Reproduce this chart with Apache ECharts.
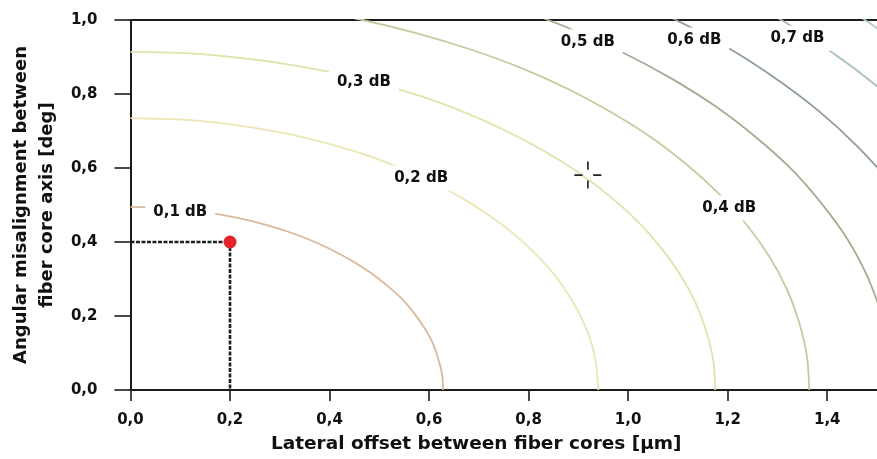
<!DOCTYPE html>
<html>
<head>
<meta charset="utf-8">
<script src="https://cdn.jsdelivr.net/npm/echarts@6/dist/echarts.min.js"></script>
<style>html,body{margin:0;padding:0;background:#fff}#c{width:877px;height:459px}</style>
</head>
<body>
<div id="c"></div>
<script>
// ---- data ----
const xTicks = [0, 0.2, 0.4, 0.6, 0.8, 1.0, 1.2, 1.4];
const yTicks = [0, 0.2, 0.4, 0.6, 0.8, 1.0];

const loss01 = [[0,0.495],[0.055,0.493],[0.109,0.487],[0.163,0.478],[0.215,0.465],[0.265,0.449],[0.314,0.429],[0.360,0.406],[0.404,0.379],[0.444,0.350],[0.481,0.318],[0.514,0.284],[0.544,0.248],[0.569,0.209],[0.590,0.169],[0.607,0.128],[0.618,0.086],[0.626,0.043],[0.628,0]];
const loss02 = [[0,0.735],[0.082,0.732],[0.163,0.724],[0.243,0.710],[0.321,0.691],[0.397,0.666],[0.470,0.637],[0.539,0.602],[0.604,0.563],[0.665,0.520],[0.720,0.472],[0.770,0.422],[0.814,0.368],[0.852,0.311],[0.883,0.251],[0.908,0.190],[0.926,0.128],[0.936,0.064],[0.940,0]];
const loss03 = [[0,0.914],[0.102,0.911],[0.204,0.900],[0.304,0.883],[0.402,0.859],[0.497,0.828],[0.588,0.792],[0.674,0.749],[0.755,0.700],[0.831,0.646],[0.900,0.588],[0.963,0.524],[1.018,0.457],[1.065,0.386],[1.104,0.313],[1.135,0.237],[1.157,0.159],[1.171,0.080],[1.175,0]];
const loss04 = [[0.237,1.048],[0.353,1.028],[0.466,1.000],[0.576,0.964],[0.682,0.921],[0.782,0.872],[0.877,0.815],[0.964,0.752],[1.045,0.684],[1.117,0.610],[1.181,0.532],[1.236,0.450],[1.282,0.364],[1.318,0.275],[1.343,0.185],[1.359,0.093],[1.364,0]];
const loss05 = [[0.524,1.123],[0.647,1.083],[0.766,1.035],[0.879,0.979],[0.985,0.915],[1.083,0.845],[1.174,0.768],[1.255,0.685],[1.327,0.598],[1.388,0.505],[1.440,0.409],[1.480,0.309],[1.509,0.207]];
const loss06 = [[0.713,1.193],[0.844,1.140],[0.968,1.078],[1.084,1.008],[1.193,0.931],[1.292,0.846],[1.382,0.755],[1.461,0.658],[1.529,0.556],[1.585,0.450]];
const loss07 = [[0.916,1.238],[1.051,1.171],[1.178,1.095],[1.295,1.010],[1.403,0.919],[1.501,0.820],[1.587,0.715]];
const loss08 = [[1.257,1.168],[1.382,1.078],[1.498,0.980],[1.602,0.875]];

const levelNames = ['0,1 dB','0,2 dB','0,3 dB','0,4 dB','0,5 dB','0,6 dB','0,7 dB','0,8 dB'];
const labelX = [0.100, 0.584, 0.469, 1.203, 0.919, 1.133, 1.340];
const labelY = [0.481, 0.573, 0.832, 0.492, 0.941, 0.946, 0.951];

const pointX = [0.2];
const pointY = [0.4];
const crossX = [0.919];
const crossY = [0.581];

// ---- styles ----
const curves = [loss01, loss02, loss03, loss04, loss05, loss06, loss07, loss08];
const curveColors = ['#d8b99c','#ebe6b3','#e0e3ac','#c6cba1','#a3ad93','#8f9e94','#a7bdbe','#b3cacc'];
const FONT = 'DejaVu Sans';
const TXT = '#111111';
const fmt = v => v.toFixed(1).replace('.', ',');

const series = curves.map((pts, i) => ({
  type: 'line',
  name: levelNames[i],
  data: pts,
  smooth: 0.3,
  symbol: 'none',
  clip: true,
  z: 2,
  lineStyle: { color: curveColors[i], width: 1.8 },
  silent: true
}));

series.push({
  type: 'scatter',
  data: labelX.map((x, i) => ({ name: levelNames[i], value: [x, labelY[i]] })),
  symbolSize: 1,
  itemStyle: { color: 'rgba(255,255,255,0)', opacity: 1 },
  z: 6,
  label: {
    show: true, position: 'inside', formatter: '{b}',
    fontFamily: FONT, fontWeight: 'bold', fontSize: 15, color: TXT, opacity: 1,
    backgroundColor: '#ffffff', padding: [5, 8]
  },
  silent: true
});

series.push({
  type: 'line',
  data: [[0, pointY[0]], [pointX[0], pointY[0]], [pointX[0], 0]],
  symbol: 'none',
  z: 7,
  lineStyle: { color: '#1e1e1e', width: 2.6, type: [4, 1.5] },
  silent: true
});

series.push({
  type: 'scatter',
  data: pointX.map((x, i) => [x, pointY[i]]),
  symbolSize: 13,
  z: 8,
  itemStyle: { color: '#e3222a', opacity: 1 },
  silent: true
});

series.push({
  type: 'scatter',
  data: crossX.map((x, i) => [x, crossY[i]]),
  symbol: 'path://M0,12.5h8v1.6h-8z M18.5,12.5h8v1.6h-8z M12.5,0h1.6v8h-1.6z M12.5,18.5h1.6v8h-1.6z',
  symbolSize: [27, 27],
  z: 8,
  itemStyle: { color: '#222', opacity: 1 },
  silent: true
});

const chart = echarts.init(document.getElementById('c'), null, { renderer: 'canvas' });
chart.setOption({
  animation: false,
  backgroundColor: '#ffffff',
  grid: { left: 130, right: 0, top: 20, bottom: 69, containLabel: false },
  xAxis: [{
    type: 'value', min: 0, max: 1.5,
    name: 'Lateral offset between fiber cores [µm]',
    nameLocation: 'middle', nameGap: 45,
    nameTextStyle: { fontFamily: FONT, fontWeight: 'bold', fontSize: 18.5, color: TXT, padding: [0, 55, 0, 0] },
    axisLine: { show: true, lineStyle: { color: '#1c1c1c', width: 2 } },
    axisTick: { show: true, length: 11, customValues: xTicks, lineStyle: { color: '#1c1c1c', width: 1.6 } },
    axisLabel: { customValues: xTicks, margin: 23, formatter: fmt, fontFamily: FONT, fontWeight: 'bold', fontSize: 15, color: TXT },
    splitLine: { show: false }
  }, {
    type: 'value', min: 0, max: 1.5, position: 'top',
    axisLine: { show: true, onZero: false, lineStyle: { color: '#1c1c1c', width: 2 } },
    axisTick: { show: false }, axisLabel: { show: false }, splitLine: { show: false }
  }],
  yAxis: {
    type: 'value', min: 0, max: 1.0,
    name: 'Angular misalignment between\nfiber core axis [deg]',
    nameLocation: 'middle', nameGap: 66,
    nameTextStyle: { fontFamily: FONT, fontWeight: 'bold', fontSize: 18, color: TXT, lineHeight: 26, align: 'center' },
    axisLine: { show: true, lineStyle: { color: '#1c1c1c', width: 2 } },
    axisTick: { show: true, length: 16, customValues: yTicks, lineStyle: { color: '#1c1c1c', width: 1.6 } },
    axisLabel: { customValues: yTicks, margin: 33, formatter: fmt, fontFamily: FONT, fontWeight: 'bold', fontSize: 15, color: TXT },
    splitLine: { show: false }
  },
  series: series
});
</script>
</body>
</html>
